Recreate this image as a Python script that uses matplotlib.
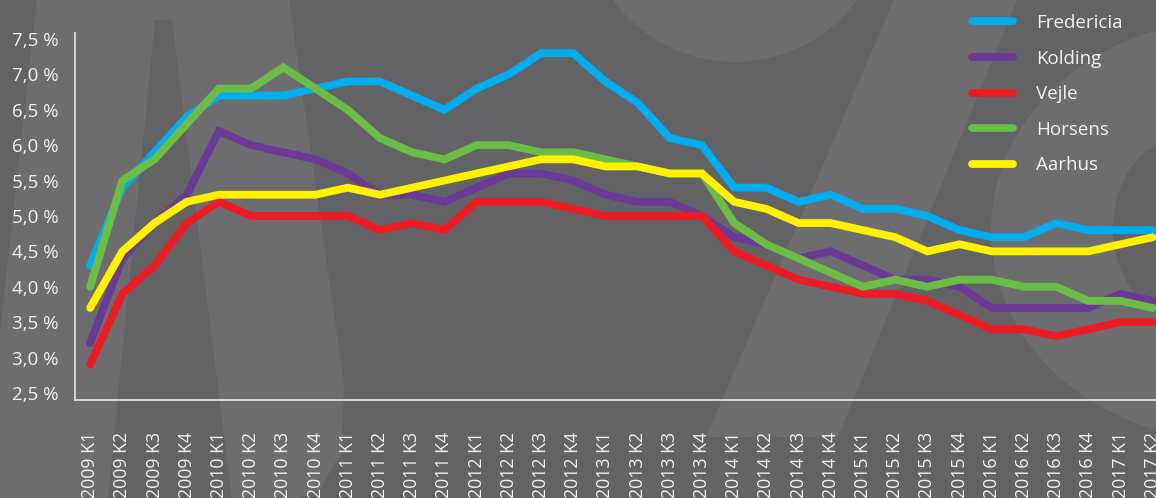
import matplotlib
matplotlib.use("Agg")
import matplotlib.pyplot as plt
from matplotlib.patches import Polygon, Ellipse

W, H = 1156, 498

quarters = [
    "2009 K1", "2009 K2", "2009 K3", "2009 K4",
    "2010 K1", "2010 K2", "2010 K3", "2010 K4",
    "2011 K1", "2011 K2", "2011 K3", "2011 K4",
    "2012 K1", "2012 K2", "2012 K3", "2012 K4",
    "2013 K1", "2013 K2", "2013 K3", "2013 K4",
    "2014 K1", "2014 K2", "2014 K3", "2014 K4",
    "2015 K1", "2015 K2", "2015 K3", "2015 K4",
    "2016 K1", "2016 K2", "2016 K3", "2016 K4",
    "2017 K1", "2017 K2",
]

fredericia = [4.3, 5.4, 5.9, 6.4, 6.7, 6.7, 6.7, 6.8, 6.9, 6.9, 6.7, 6.5,
              6.8, 7.0, 7.3, 7.3, 6.9, 6.6, 6.1, 6.0, 5.4, 5.4, 5.2, 5.3,
              5.1, 5.1, 5.0, 4.8, 4.7, 4.7, 4.9, 4.8, 4.8, 4.8]
kolding = [3.2, 4.4, 4.9, 5.3, 6.2, 6.0, 5.9, 5.8, 5.6, 5.3, 5.3, 5.2,
           5.4, 5.6, 5.6, 5.5, 5.3, 5.2, 5.2, 5.0, 4.7, 4.6, 4.4, 4.5,
           4.3, 4.1, 4.1, 4.0, 3.7, 3.7, 3.7, 3.7, 3.9, 3.8]
vejle = [2.9, 3.9, 4.3, 4.9, 5.2, 5.0, 5.0, 5.0, 5.0, 4.8, 4.9, 4.8,
         5.2, 5.2, 5.2, 5.1, 5.0, 5.0, 5.0, 5.0, 4.5, 4.3, 4.1, 4.0,
         3.9, 3.9, 3.8, 3.6, 3.4, 3.4, 3.3, 3.4, 3.5, 3.5]
horsens = [4.0, 5.5, 5.8, 6.3, 6.8, 6.8, 7.1, 6.8, 6.5, 6.1, 5.9, 5.8,
           6.0, 6.0, 5.9, 5.9, 5.8, 5.7, 5.6, 5.6, 4.9, 4.6, 4.4, 4.2,
           4.0, 4.1, 4.0, 4.1, 4.1, 4.0, 4.0, 3.8, 3.8, 3.7]
aarhus = [3.7, 4.5, 4.9, 5.2, 5.3, 5.3, 5.3, 5.3, 5.4, 5.3, 5.4, 5.5,
          5.6, 5.7, 5.8, 5.8, 5.7, 5.7, 5.6, 5.6, 5.2, 5.1, 4.9, 4.9,
          4.8, 4.7, 4.5, 4.6, 4.5, 4.5, 4.5, 4.5, 4.6, 4.7]

series = [
    ("Fredericia", fredericia, "#00aeef"),
    ("Kolding", kolding, "#6b3a96"),
    ("Vejle", vejle, "#ed1c24"),
    ("Horsens", horsens, "#6cbd45"),
    ("Aarhus", aarhus, "#fff200"),
]
y_ticks = [2.5, 3.0, 3.5, 4.0, 4.5, 5.0, 5.5, 6.0, 6.5, 7.0, 7.5]

BG = "#636365"
LIGHT = "#6d6d6f"
TXT = "#f2f2f2"

plt.rcParams["font.family"] = ["Open Sans", "DejaVu Sans"]

fig = plt.figure(figsize=(W / 100, H / 100), dpi=100, facecolor=BG)


def px(x, y):
    return (x / W, 1 - y / H)


# watermark shapes in the background (pixel coords, y down)
def poly(pts, color):
    fig.add_artist(Polygon([px(*p) for p in pts], closed=True, transform=fig.transFigure,
                           facecolor=color, edgecolor="none", zorder=0))


def ell(cx, cy, a, b, color):
    fig.add_artist(Ellipse(px(cx, cy), 2 * a / W, 2 * b / H, transform=fig.transFigure,
                           facecolor=color, edgecolor="none", zorder=0))


poly([(37, 0), (289, 0), (344, 383), (342, 450), (320, 490), (300, 498), (0, 498), (0, 333)], LIGHT)
poly([(155, 20), (172, 20), (232, 498), (108, 498)], BG)
ell(735, -89, 151, 151, LIGHT)
poly([(894, 0), (1017, 0), (838, 437), (706, 437)], LIGHT)
ell(1230, 230, 239, 210, LIGHT)
ell(1178, 228, 65, 88, BG)

ax = fig.add_axes([75 / W, 1 - 400 / H, 1 - 75 / W, 367 / H])
ax.set_facecolor("none")

x = list(range(len(quarters)))
for name, vals, col in series:
    ax.plot(x, vals, color=col, lw=5.6, label=name, solid_capstyle="round",
            solid_joinstyle="miter")

ax.set_xlim(-0.47, 33.1)
ax.set_ylim(2.4, 7.585)

ax.set_yticks(y_ticks)
ax.set_yticklabels([f"{v:.1f} %".replace(".", ",") for v in y_ticks])
ax.set_xticks(x)
ax.set_xticklabels(quarters, rotation=90)
ax.tick_params(axis="y", length=0, pad=12, labelsize=13.5, labelcolor=TXT)
ax.tick_params(axis="x", length=0, pad=23, labelsize=12.8, labelcolor=TXT)

for s in ["top", "right"]:
    ax.spines[s].set_visible(False)
for s in ["left", "bottom"]:
    ax.spines[s].set_color("#e8e8e8")
    ax.spines[s].set_linewidth(1.2)

leg = ax.legend(loc="upper left", bbox_to_anchor=px(972, 14), bbox_transform=fig.transFigure,
                frameon=False, fontsize=13.5, handlelength=2.2, handletextpad=1.2,
                labelspacing=0.94, borderpad=0, borderaxespad=0)
for t in leg.get_texts():
    t.set_color(TXT)

fig.savefig("out.png", dpi=100, facecolor=BG)
